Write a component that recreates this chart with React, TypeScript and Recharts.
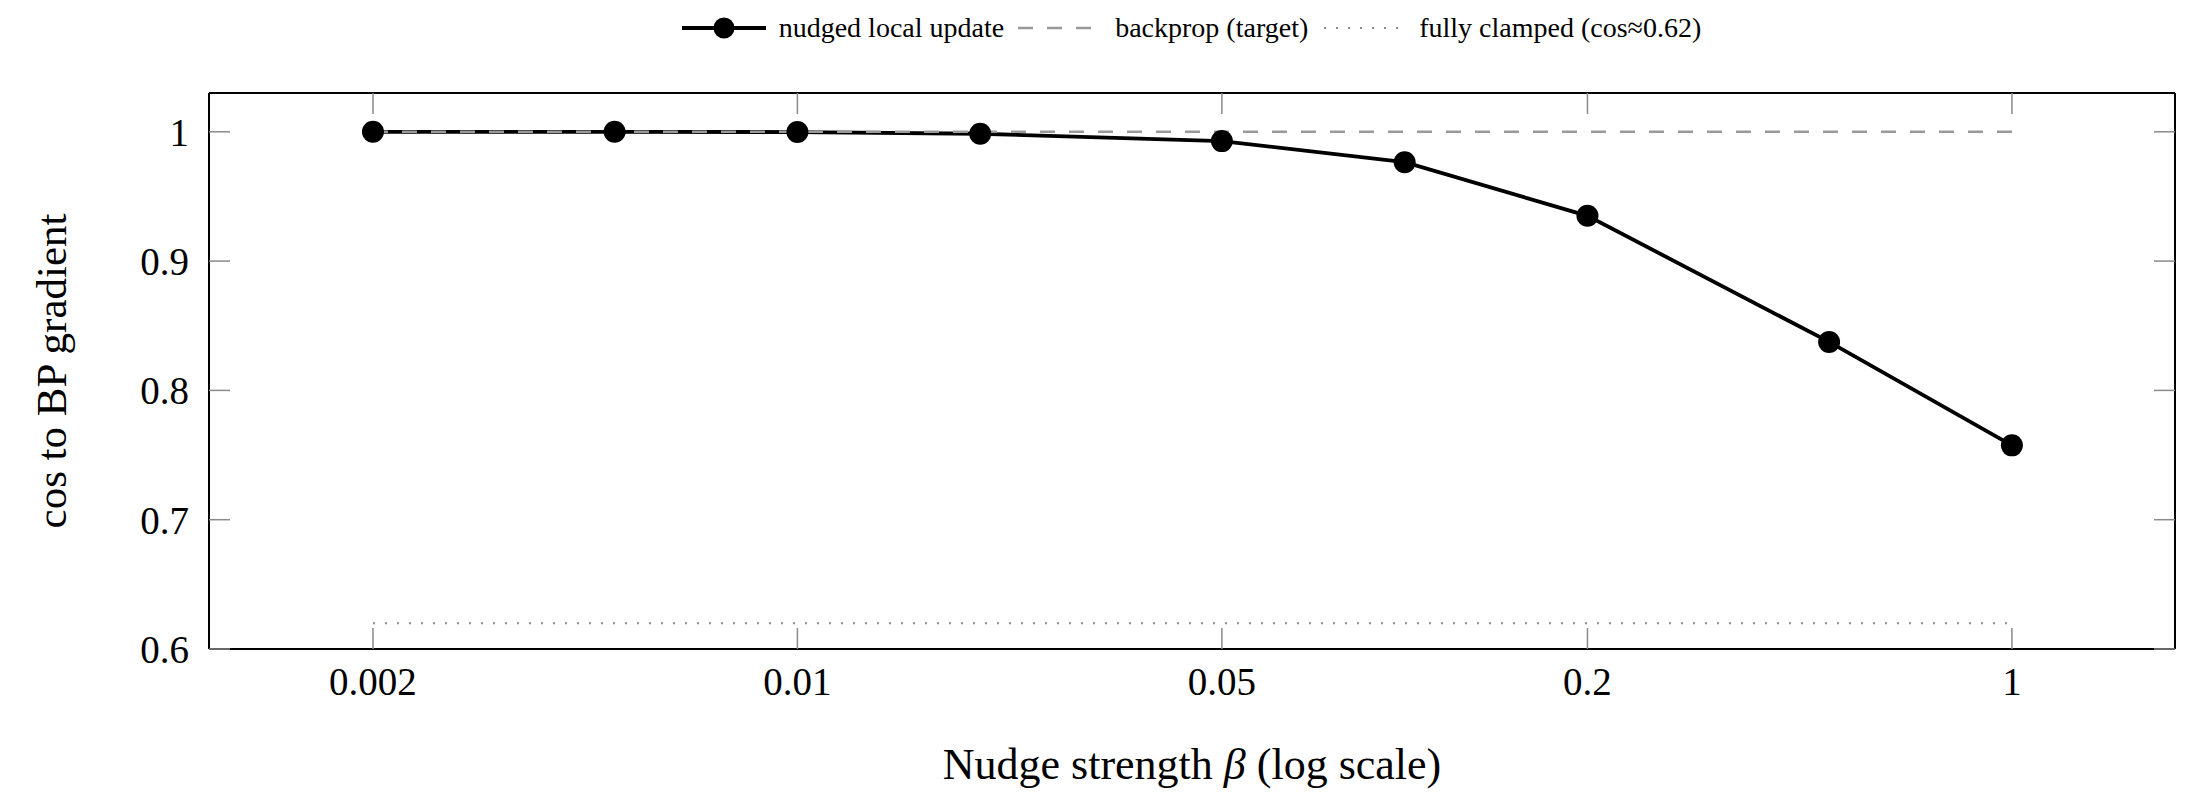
import { LineChart, Line, XAxis, YAxis, Legend } from "recharts";

const betas = [0.002, 0.005, 0.01, 0.02, 0.05, 0.1, 0.2, 0.5, 1];
const nudgedCos = [1.0, 1.0, 0.9998, 0.9985, 0.9928, 0.9765, 0.935, 0.8375, 0.7575];
const backpropCos = [1, 1, 1, 1, 1, 1, 1, 1, 1];
const clampedCos = [0.62, 0.62, 0.62, 0.62, 0.62, 0.62, 0.62, 0.62, 0.62];

const xTicks = [0.002, 0.01, 0.05, 0.2, 1];
const yTicks = [0.6, 0.7, 0.8, 0.9, 1];
const xDomain = [0.001074, 1.856];
const yDomain = [0.6, 1.03];

const legendOrder = ["nudged", "backprop", "clamped"];

const data = betas.map((beta, i) => ({
  beta,
  nudged: nudgedCos[i],
  backprop: backpropCos[i],
  clamped: clampedCos[i],
}));

const FONT = "'Liberation Serif', serif";
const TICK_GRAY = "#8a8a8a";

const XTitle = (props: any) => {
  const { x, y, width } = props.viewBox;
  return (
    <text x={x + width / 2} y={y + 130} textAnchor="middle" fontSize={44} fontFamily={FONT} fill="#000">
      Nudge strength <tspan fontStyle="italic">β</tspan> (log scale)
    </text>
  );
};

const YTitle = (props: any) => {
  const { x, y, width, height } = props.viewBox;
  const cx = x + width - 143;
  const cy = y + height / 2;
  return (
    <text x={cx} y={cy} transform={`rotate(-90, ${cx}, ${cy})`} textAnchor="middle" fontSize={43} fontFamily={FONT} fill="#000">
      cos to BP gradient
    </text>
  );
};

// tick-mark-only axes: keep the tick lines, draw no label
const NoLabel = () => <g />;

const LegendIcon = ({ kind }: { kind: string }) => (
  <svg width={84} height={26} style={{ display: "block" }}>
    {kind === "nudged" && (
      <>
        <line x1={0} y1={13} x2={84} y2={13} stroke="#000" strokeWidth={3.8} />
        <circle cx={42} cy={13} r={10.5} fill="#000" />
      </>
    )}
    {kind === "backprop" && (
      <line x1={0} y1={13} x2={84} y2={13} stroke="#999" strokeWidth={2.5} strokeDasharray="15 14" />
    )}
    {kind === "clamped" && (
      <line x1={2} y1={13} x2={84} y2={13} stroke="#888" strokeWidth={2} strokeDasharray="2 10" />
    )}
  </svg>
);

const renderLegend = (props: any) => {
  const items = [...(props.payload || [])].sort(
    (a: any, b: any) => legendOrder.indexOf(a.dataKey) - legendOrder.indexOf(b.dataKey)
  );
  return (
    <div style={{ display: "flex", justifyContent: "center", alignItems: "center", height: 40, fontFamily: FONT, fontSize: 28, color: "#000" }}>
      {items.map((entry: any, i: number) => (
        <div key={entry.dataKey} style={{ display: "flex", alignItems: "center", marginLeft: i === 0 ? 0 : 14 }}>
          <LegendIcon kind={entry.dataKey} />
          <span style={{ marginLeft: 13 }}>{entry.value}</span>
        </div>
      ))}
    </div>
  );
};

const tickMark = { stroke: TICK_GRAY, strokeWidth: 1.5 };
const frame = { stroke: "#000", strokeWidth: 2 };

export default function App() {
  return (
    <div style={{ position: "absolute", left: 0, top: 0, background: "#fff" }}>
      <LineChart width={2190} height={797} data={data} margin={{ top: 53, right: 15, bottom: 147, left: 208 }}>
        <Legend verticalAlign="top" content={renderLegend} wrapperStyle={{ top: 8 }} />

        {/* labelled axes */}
        <XAxis
          xAxisId="x"
          dataKey="beta"
          type="number"
          scale="log"
          domain={xDomain}
          allowDataOverflow
          ticks={xTicks}
          interval={0}
          height={1}
          tickSize={0}
          tickMargin={18}
          tickLine={false}
          axisLine={frame}
          tick={{ fontSize: 39, fill: "#000", fontFamily: FONT }}
          label={<XTitle />}
        />
        <YAxis
          yAxisId="y"
          type="number"
          domain={yDomain}
          allowDataOverflow
          ticks={yTicks}
          interval={0}
          width={1}
          tickSize={0}
          tickMargin={20}
          tickLine={false}
          axisLine={frame}
          tick={{ fontSize: 39, fill: "#000", fontFamily: FONT }}
          label={<YTitle />}
        />

        {/* inward tick marks on all four sides */}
        <XAxis xAxisId="xb" dataKey="beta" type="number" scale="log" domain={xDomain} allowDataOverflow ticks={xTicks} interval={0}
          height={1} mirror tick={NoLabel} tickSize={21} tickLine={tickMark} axisLine={false} />
        <XAxis xAxisId="xt" dataKey="beta" orientation="top" type="number" scale="log" domain={xDomain} allowDataOverflow ticks={xTicks} interval={0}
          height={1} mirror tick={NoLabel} tickSize={21} tickLine={tickMark} axisLine={frame} />
        <YAxis yAxisId="yl" type="number" domain={yDomain} allowDataOverflow ticks={yTicks} interval={0}
          width={1} mirror tick={NoLabel} tickSize={21} tickLine={tickMark} axisLine={false} />
        <YAxis yAxisId="yr" orientation="right" type="number" domain={yDomain} allowDataOverflow ticks={yTicks} interval={0}
          width={1} mirror tick={NoLabel} tickSize={21} tickLine={tickMark} axisLine={frame} />

        <Line
          xAxisId="x"
          yAxisId="y"
          type="linear"
          dataKey="nudged"
          name="nudged local update"
          stroke="#000"
          strokeWidth={3.8}
          dot={{ r: 11, fill: "#000", stroke: "#000", strokeWidth: 0 }}
          activeDot={false}
          isAnimationActive={false}
        />
        <Line
          xAxisId="x"
          yAxisId="y"
          type="linear"
          dataKey="backprop"
          name="backprop (target)"
          stroke="#999"
          strokeWidth={2.5}
          strokeDasharray="15 14"
          dot={false}
          activeDot={false}
          isAnimationActive={false}
        />
        <Line
          xAxisId="x"
          yAxisId="y"
          type="linear"
          dataKey="clamped"
          name="fully clamped (cos≈0.62)"
          stroke="#888"
          strokeWidth={2}
          strokeDasharray="2 10"
          dot={false}
          activeDot={false}
          isAnimationActive={false}
        />
      </LineChart>
    </div>
  );
}
